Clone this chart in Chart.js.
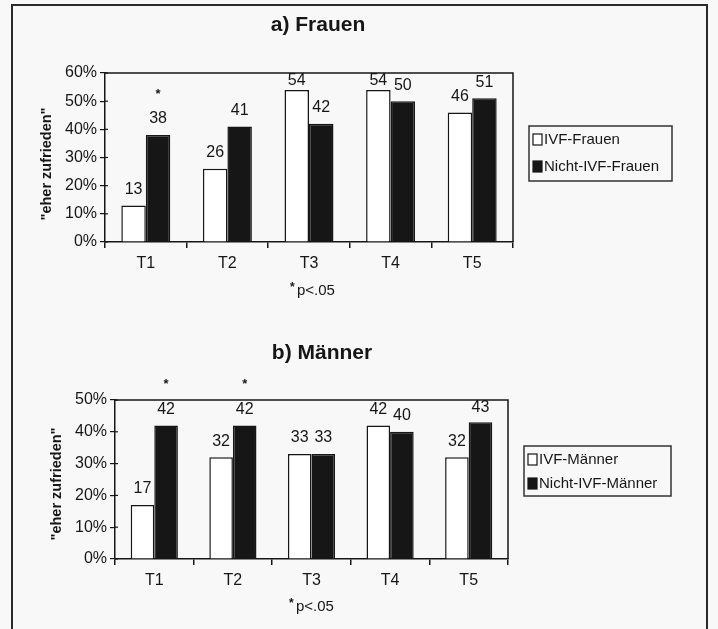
<!DOCTYPE html>
<html>
<head>
<meta charset="utf-8">
<script src="https://cdn.jsdelivr.net/npm/chart.js@4.4.1/dist/chart.umd.min.js"></script>
<style>
  html, body { margin: 0; padding: 0; background: #f8f8f8; }
  body { width: 718px; height: 629px; position: relative; overflow: hidden; }
  #frame { position: absolute; left: 11px; top: 4px; width: 697px; height: 660px; border: 2px solid #2a2a2a; box-sizing: border-box; }
  canvas { position: absolute; left: 0; }
</style>
</head>
<body>
<div id="frame"></div>
<canvas id="chartA" width="718" height="320" style="top:0"></canvas>
<canvas id="chartB" width="718" height="309" style="top:320px"></canvas>
<script>
const timepoints = ['T1', 'T2', 'T3', 'T4', 'T5'];
const ivfWomen = [13, 26, 54, 54, 46];
const nonIvfWomen = [38, 41, 42, 50, 51];
const ivfMen = [17, 32, 33, 42, 32];
const nonIvfMen = [42, 42, 33, 40, 43];
// significance marks above the Nicht-IVF bars
const sigWomen = ['*', '', '', '', ''];
const sigMen = ['*', '*', '', '', ''];

const FONT = '"Liberation Sans Narrow", "Arial Narrow", "Liberation Sans", Arial, sans-serif';
const INK = '#161616';

// titles, value labels, legend box, footnote
const decor = {
  id: 'decor',
  afterDraw(chart, args, opts) {
    const ctx = chart.ctx;
    const area = chart.chartArea;
    ctx.save();
    ctx.fillStyle = INK;
    ctx.strokeStyle = INK;

    // frame round the plot
    ctx.lineWidth = 1.5;
    ctx.beginPath();
    ctx.moveTo(area.left, area.top);
    ctx.lineTo(area.right, area.top);
    ctx.lineTo(area.right, area.bottom);
    ctx.stroke();

    // y ticks poke a little into the plot
    const ys = chart.scales.y;
    ctx.lineWidth = 1.2;
    ys.ticks.forEach((t) => {
      const py = ys.getPixelForValue(t.value);
      ctx.beginPath();
      ctx.moveTo(area.left, py);
      ctx.lineTo(area.left + 3, py);
      ctx.stroke();
    });

    // title
    ctx.font = 'bold 21px ' + FONT;
    ctx.textAlign = 'center';
    ctx.textBaseline = 'middle';
    ctx.fillText(opts.title, opts.titleX, opts.titleY);

    // y axis title
    ctx.save();
    ctx.translate(opts.yTitleX, 164);
    ctx.rotate(-Math.PI / 2);
    ctx.font = 'bold 14.5px ' + FONT;
    ctx.fillText('"eher zufrieden"', 0, 0);
    ctx.restore();

    // value labels
    ctx.font = '16px ' + FONT;
    chart.data.datasets.forEach((ds, i) => {
      const meta = chart.getDatasetMeta(i);
      meta.data.forEach((bar, j) => {
        const y = Math.max(bar.y - 16, area.top + 8);
        ctx.fillText(String(ds.data[j]), bar.x, y);
        if (i === 1 && opts.sig[j]) {
          ctx.save();
          ctx.font = 'bold 13px ' + FONT;
          ctx.fillText(opts.sig[j], bar.x, y - 25);
          ctx.restore();
        }
      });
    });

    // footnote
    ctx.textAlign = 'left';
    ctx.font = '15px ' + FONT;
    ctx.fillText('p<.05', opts.noteX, opts.noteY);
    ctx.font = 'bold 12px ' + FONT;
    ctx.fillText('*', opts.noteX - 7, opts.noteY - 3);

    // legend
    const lg = opts.legend;
    ctx.lineWidth = 1.5;
    ctx.strokeStyle = '#333';
    ctx.strokeRect(lg.x, lg.y, lg.w, lg.h);
    ctx.font = '15px ' + FONT;
    chart.data.datasets.forEach((ds, i) => {
      const cy = lg.rows[i];
      ctx.fillStyle = ds.backgroundColor;
      ctx.fillRect(lg.x + 4, cy - 5, 9, 11);
      ctx.strokeStyle = INK;
      ctx.lineWidth = 1.2;
      ctx.strokeRect(lg.x + 4, cy - 5, 9, 11);
      ctx.fillStyle = INK;
      ctx.fillText(ds.label, lg.x + 15, cy + 1);
    });
    ctx.restore();
  }
};

function makeChart(id, labels, series, names, max, box, decorOpts) {
  new Chart(document.getElementById(id), {
    type: 'bar',
    data: {
      labels: labels,
      datasets: [{
        label: names[0],
        data: series[0],
        backgroundColor: '#ffffff',
        borderColor: INK,
        borderWidth: 1.5,
        categoryPercentage: 0.6,
        barPercentage: 1.0
      }, {
        label: names[1],
        data: series[1],
        backgroundColor: INK,
        borderColor: INK,
        borderWidth: 1.5,
        categoryPercentage: 0.6,
        barPercentage: 1.0
      }]
    },
    options: {
      responsive: false,
      animation: false,
      layout: { padding: { left: 0, right: box.right, top: box.top, bottom: 0 } },
      plugins: {
        legend: { display: false },
        tooltip: { enabled: false },
        decor: decorOpts
      },
      scales: {
        x: {
          afterFit: (s) => { s.height = box.xh; },
          grid: { offset: true, drawOnChartArea: false, tickLength: 6, color: INK, lineWidth: 1.5 },
          border: { color: INK, width: 1.5 },
          ticks: { color: INK, padding: 6, font: { family: FONT, size: 16 } }
        },
        y: {
          min: 0,
          max: max,
          afterFit: (s) => { s.width = box.yw; },
          grid: { drawOnChartArea: false, tickLength: 5, color: INK, lineWidth: 1.2 },
          border: { color: INK, width: 1.5 },
          ticks: {
            stepSize: 10,
            color: INK,
            padding: 3,
            font: { family: FONT, size: 16 },
            callback: (v) => v + '%'
          }
        }
      }
    },
    plugins: [decor]
  });
}

makeChart('chartA', timepoints, [ivfWomen, nonIvfWomen], ['IVF-Frauen', 'Nicht-IVF-Frauen'], 60,
  { right: 205, top: 73, xh: 78, yw: 105 },
  { title: 'a) Frauen', titleX: 318, titleY: 25, yTitleX: 47, noteX: 297, noteY: 291, sig: sigWomen,
    legend: { x: 529, y: 126, w: 143, h: 55, rows: [139, 166] } });

makeChart('chartB', timepoints, [ivfMen, nonIvfMen], ['IVF-Männer', 'Nicht-IVF-Männer'], 50,
  { right: 210, top: 80, xh: 70, yw: 115 },
  { title: 'b) Männer', titleX: 322, titleY: 33, yTitleX: 57, noteX: 296, noteY: 287, sig: sigMen,
    legend: { x: 524, y: 126, w: 147, h: 50, rows: [139, 163] } });
</script>
</body>
</html>
